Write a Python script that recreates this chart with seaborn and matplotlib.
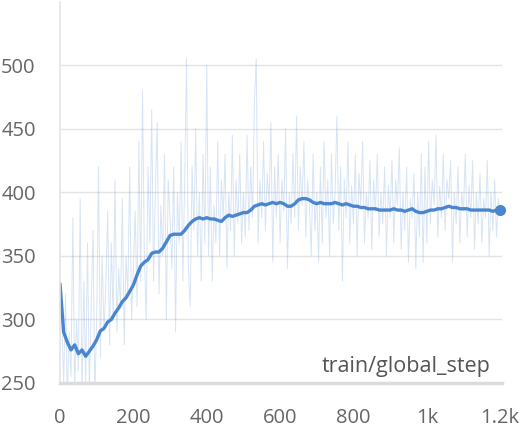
import numpy as np
import pandas as pd
import seaborn as sns
import matplotlib.pyplot as plt

# raw metric, one value every 5 global steps
raw_steps = np.arange(0, 1201, 5)
raw_vals = [
    330, 300, 250, 320, 240, 290, 255, 380, 245, 300, 260, 395, 240, 330, 250, 360, 245, 310, 370, 240,
    300, 420, 270, 350, 290, 330, 385, 280, 360, 300, 410, 290, 340, 310, 395, 280, 350, 320, 420, 300,
    340, 385, 310, 440, 330, 480, 350, 300, 420, 360, 465, 330, 400, 455, 320, 390, 350, 430, 300, 410,
    380, 340, 420, 290, 400, 360, 440, 330, 410, 505, 340, 310, 420, 370, 450, 350, 400, 330, 430, 360,
    500, 350, 420, 330, 390, 360, 440, 350, 410, 380, 430, 340, 400, 370, 445, 350, 410, 375, 430, 360,
    400, 365, 445, 370, 420, 380, 470, 505, 360, 410, 380, 440, 370, 415, 390, 455, 345, 420, 380, 430,
    360, 410, 385, 450, 340, 400, 375, 430, 380, 460, 370, 420, 390, 440, 365, 410, 390, 350, 430, 370,
    400, 345, 420, 360, 440, 380, 410, 350, 430, 375, 400, 460, 370, 420, 330, 410, 380, 440, 360, 405,
    375, 430, 350, 415, 390, 440, 360, 400, 380, 425, 355, 410, 385, 430, 365, 400, 375, 420, 350, 405,
    380, 425, 360, 410, 390, 435, 355, 400, 370, 420, 345, 395, 380, 415, 340, 400, 365, 430, 345, 420,
    360, 440, 375, 410, 390, 445, 365, 405, 380, 430, 370, 410, 395, 425, 345, 400, 375, 420, 360, 400,
    385, 430, 365, 405, 380, 425, 355, 400, 375, 415, 360, 395, 380, 425, 350, 400, 370, 410, 365, 395,
    386,
]

# smoothed curve, one value every 10 steps
smooth_steps = np.arange(0, 1201, 10)
smooth_vals = [
    328, 290, 282, 276, 280, 273, 276, 271, 275, 279,
    284, 291, 293, 298, 300, 305, 309, 314, 317, 322,
    327, 335, 342, 345, 347, 352, 353, 353, 356, 361,
    366, 367, 367, 367, 370, 374, 377, 379, 380, 379,
    380, 379, 379, 378, 377, 380, 382, 381, 382, 383,
    384, 384, 386, 389, 390, 391, 390, 391, 392, 391,
    392, 391, 389, 389, 391, 394, 395, 395, 394, 392,
    391, 392, 391, 391, 391, 392, 391, 390, 391, 390,
    389, 389, 388, 388, 387, 387, 387, 386, 386, 386,
    386, 387, 386, 386, 385, 386, 387, 385, 384, 384,
    385, 386, 386, 387, 387, 388, 389, 388, 388, 387,
    387, 387, 386, 386, 386, 386, 386, 386, 385, 386,
    386,
]

x_ticks = [0, 200, 400, 600, 800, 1000, 1200]
x_labels = ["0", "200", "400", "600", "800", "1k", "1.2k"]
y_ticks = [250, 300, 350, 400, 450, 500]

raw = pd.DataFrame({"step": raw_steps, "value": raw_vals})
smooth = pd.DataFrame({"step": smooth_steps, "value": smooth_vals})

sns.set_theme(style="white")
plt.rcParams["font.family"] = ["Open Sans", "DejaVu Sans"]

blue = "#4a86cf"
grid_c = "#e4e4e4"
text_c = "#666666"

fig = plt.figure(figsize=(5.29, 4.33), dpi=100)
ax = fig.add_axes([60 / 529, 1 - 383 / 433, 442 / 529, 381.5 / 433])

sns.lineplot(data=raw, x="step", y="value", ax=ax, color=blue, lw=0.7, alpha=0.22)
sns.lineplot(data=smooth, x="step", y="value", ax=ax, color=blue, lw=2.4)
ax.plot(smooth["step"].iloc[-1], smooth["value"].iloc[-1], "o", color=blue, ms=7, clip_on=False)

ax.set_xlim(0, 1205)
ax.set_ylim(250, 550)
ax.set_xticks(x_ticks, x_labels)
ax.set_yticks(y_ticks)
ax.set_xlabel("")
ax.set_ylabel("")

ax.grid(axis="y", color=grid_c, lw=1)
ax.set_axisbelow(True)
for s in ("top", "right"):
    ax.spines[s].set_visible(False)
ax.spines["left"].set_color(grid_c)
ax.spines["left"].set_linewidth(1.2)
ax.spines["bottom"].set_color("#dcdcdc")
ax.spines["bottom"].set_linewidth(2.5)

ax.tick_params(axis="x", direction="inout", length=14, width=1.5, color="#dcdcdc",
               pad=11, labelsize=14.5, labelcolor=text_c)
ax.tick_params(axis="y", direction="out", length=7.5, width=1, color=grid_c,
               pad=10, labelsize=14.5, labelcolor=text_c)

ax.text(0.975, 0.028, "train/global_step", transform=ax.transAxes, ha="right",
        va="baseline", fontsize=15.5, color="#555555")

fig.savefig("out.png", dpi=100)
